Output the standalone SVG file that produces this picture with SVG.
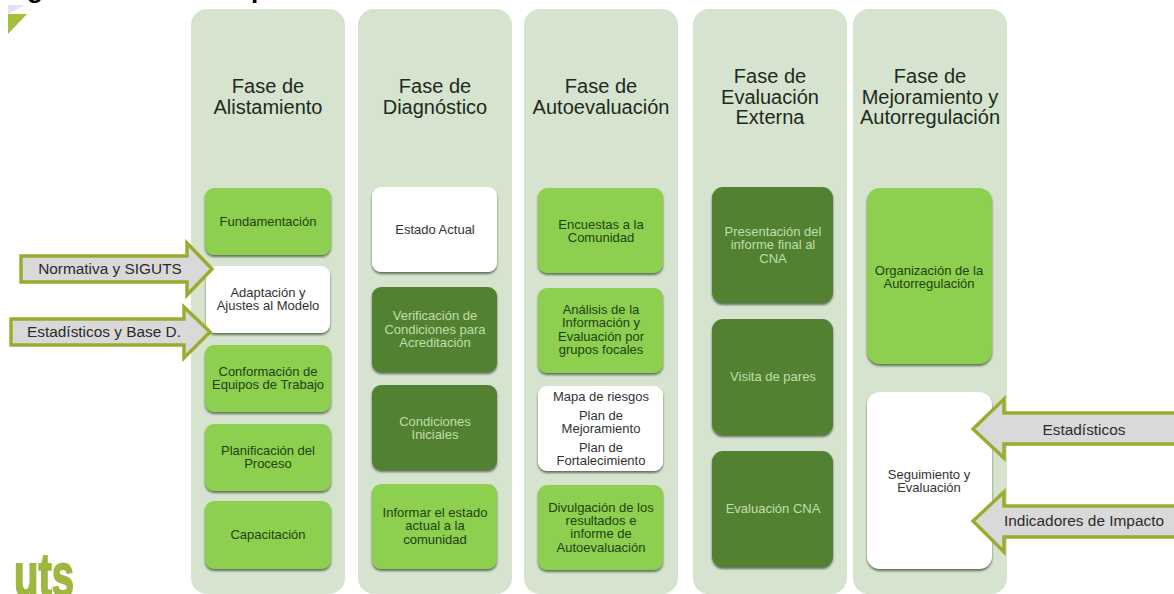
<svg xmlns="http://www.w3.org/2000/svg" width="1174" height="594" viewBox="0 0 1174 594">
<style>
text{font-family:"Liberation Sans",Arial,sans-serif;text-anchor:middle}
.panel{fill:#d5e3cf}
.box{filter:url(#sh)}
.lg{fill:#8dcf4f}.dg{fill:#538133}.wh{fill:#fff}
.title{font-size:20px;fill:#1f2a1c}
.t{font-size:13px}
.tlg{fill:#1f4212}.tdg{fill:#c0dfa8}.twh{fill:#333}
.arrow{fill:#d9d9d9;stroke:#9aab2e;stroke-width:3.4;stroke-linejoin:miter}
.al{font-size:15.4px;fill:#2b2b2b}
</style>
<defs>
<filter id="sh" x="-10%" y="-10%" width="120%" height="120%"><feDropShadow dx="0" dy="2" stdDeviation="1" flood-color="#3a4a30" flood-opacity="0.75"/></filter>
</defs>
<g id="decor">
<polygon points="8,5 25,5 8,14" fill="#e4e2ee"/>
<polygon points="8,14 27,14 8,34" fill="#a4bf3a"/>
<text x="35" y="-2" style="font-size:26px;font-weight:bold;fill:#000">g</text>
<text x="259" y="-2" style="font-size:26px;font-weight:bold;fill:#000">p</text>
<text x="44" y="596" textLength="60" lengthAdjust="spacingAndGlyphs" style="font-size:62px;font-weight:bold;fill:#9fb73e;stroke:#9fb73e;stroke-width:2">uts</text>
</g>
<g id="fase-alistamiento">
<rect class="panel" x="191" y="9" width="154" height="585" rx="16"/>
<text class="title" x="268" y="93">Fase de</text><text class="title" x="268" y="114">Alistamiento</text>
<g id="fundamentacion"><rect class="box lg" x="205" y="188" width="126" height="67" rx="9"/><text class="t tlg" x="268" y="226">Fundamentación</text></g>
<g id="adaptacion"><rect class="box wh" x="206" y="266" width="124" height="67" rx="9"/><text class="t twh" x="268" y="297">Adaptación y</text><text class="t twh" x="268" y="310">Ajustes al Modelo</text></g>
<g id="conformacion"><rect class="box lg" x="205" y="345" width="126" height="67" rx="9"/><text class="t tlg" x="268" y="376">Conformación de</text><text class="t tlg" x="268" y="389">Equipos de Trabajo</text></g>
<g id="planificacion"><rect class="box lg" x="205" y="424" width="126" height="67" rx="9"/><text class="t tlg" x="268" y="455">Planificación del</text><text class="t tlg" x="268" y="468">Proceso</text></g>
<g id="capacitacion"><rect class="box lg" x="205" y="501" width="126" height="68" rx="9"/><text class="t tlg" x="268" y="539">Capacitación</text></g>
</g>
<g id="fase-diagnostico">
<rect class="panel" x="358" y="9" width="154" height="585" rx="16"/>
<text class="title" x="435" y="93">Fase de</text><text class="title" x="435" y="114">Diagnóstico</text>
<g id="estado-actual"><rect class="box wh" x="372" y="187" width="125" height="85" rx="9"/><text class="t twh" x="435" y="234">Estado Actual</text></g>
<g id="verificacion"><rect class="box dg" x="372" y="287" width="125" height="85" rx="9"/><text class="t tdg" x="435" y="320">Verificación de</text><text class="t tdg" x="435" y="334">Condiciones para</text><text class="t tdg" x="435" y="347">Acreditación</text></g>
<g id="condiciones"><rect class="box dg" x="372" y="385" width="125" height="85" rx="9"/><text class="t tdg" x="435" y="426">Condiciones</text><text class="t tdg" x="435" y="439">Iniciales</text></g>
<g id="informar"><rect class="box lg" x="372" y="484" width="125" height="85" rx="9"/><text class="t tlg" x="435" y="517">Informar el estado</text><text class="t tlg" x="435" y="530">actual a la</text><text class="t tlg" x="435" y="544">comunidad</text></g>
</g>
<g id="fase-autoevaluacion">
<rect class="panel" x="524" y="9" width="154" height="585" rx="16"/>
<text class="title" x="601" y="93">Fase de</text><text class="title" x="601" y="114">Autoevaluación</text>
<g id="encuestas"><rect class="box lg" x="538" y="188" width="125" height="85" rx="9"/><text class="t tlg" x="601" y="229">Encuestas a la</text><text class="t tlg" x="601" y="242">Comunidad</text></g>
<g id="analisis"><rect class="box lg" x="538" y="288" width="125" height="85" rx="9"/><text class="t tlg" x="601" y="314">Análisis de la</text><text class="t tlg" x="601" y="327">Información y</text><text class="t tlg" x="601" y="341">Evaluación por</text><text class="t tlg" x="601" y="354">grupos focales</text></g>
<g id="mapa"><rect class="box wh" x="538" y="386" width="125" height="85" rx="9"/><text class="t twh" x="601" y="401">Mapa de riesgos</text><text class="t twh" x="601" y="420">Plan de</text><text class="t twh" x="601" y="433">Mejoramiento</text><text class="t twh" x="601" y="452">Plan de</text><text class="t twh" x="601" y="465">Fortalecimiento</text></g>
<g id="divulgacion"><rect class="box lg" x="538" y="485" width="125" height="85" rx="9"/><text class="t tlg" x="601" y="512">Divulgación de los</text><text class="t tlg" x="601" y="525">resultados e</text><text class="t tlg" x="601" y="538">informe de</text><text class="t tlg" x="601" y="552">Autoevaluación</text></g>
</g>
<g id="fase-evaluacion-externa">
<rect class="panel" x="693" y="9" width="154" height="585" rx="16"/>
<text class="title" x="770" y="83">Fase de</text><text class="title" x="770" y="104">Evaluación</text><text class="title" x="770" y="124">Externa</text>
<g id="presentacion"><rect class="box dg" x="712" y="187" width="121" height="116" rx="11"/><text class="t tdg" x="773" y="236">Presentación del</text><text class="t tdg" x="773" y="249">informe final al</text><text class="t tdg" x="773" y="263">CNA</text></g>
<g id="visita"><rect class="box dg" x="712" y="319" width="121" height="116" rx="11"/><text class="t tdg" x="773" y="381">Visita de pares</text></g>
<g id="evaluacion-cna"><rect class="box dg" x="712" y="451" width="121" height="116" rx="11"/><text class="t tdg" x="773" y="513">Evaluación CNA</text></g>
</g>
<g id="fase-mejoramiento">
<rect class="panel" x="853" y="9" width="154" height="585" rx="16"/>
<text class="title" x="930" y="83">Fase de</text><text class="title" x="930" y="104">Mejoramiento y</text><text class="title" x="930" y="124">Autorregulación</text>
<g id="organizacion"><rect class="box lg" x="867" y="188" width="125" height="176" rx="13"/><text class="t tlg" x="929" y="275">Organización de la</text><text class="t tlg" x="929" y="288">Autorregulación</text></g>
<g id="seguimiento"><rect class="box wh" x="867" y="392" width="125" height="177" rx="13"/><text class="t twh" x="929" y="479">Seguimiento y</text><text class="t twh" x="929" y="492">Evaluación</text></g>
</g>
<g id="connectors">
<polygon class="arrow" points="21,256 187,256 187,243 212,269 187,295 187,282 21,282"/>
<polygon class="arrow" points="11,319 184,319 184,307 210,332 184,358 184,345 11,345"/>
<polygon class="arrow" points="1176,413 1004,413 1004,399 973,429 1004,458 1004,444 1176,444"/>
<polygon class="arrow" points="1176,506 1004,506 1004,492 973,521 1004,552 1004,537 1176,537"/>
<text class="al" x="110" y="274">Normativa y SIGUTS</text>
<text class="al" x="104" y="337">Estadísticos y Base D.</text>
<text class="al" x="1084" y="435">Estadísticos</text>
<text class="al" x="1084" y="526">Indicadores de Impacto</text>
</g>
</svg>
